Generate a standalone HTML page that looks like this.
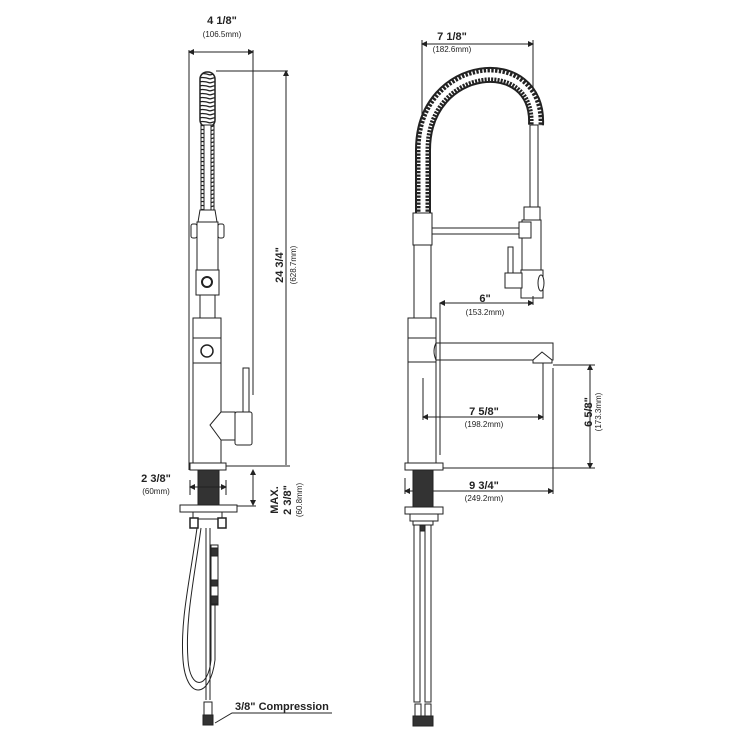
<!DOCTYPE html>
<html><head><meta charset="utf-8"><style>
html,body{margin:0;padding:0;background:#fff;}
svg{display:block;}
text{font-family:"Liberation Sans",sans-serif;fill:#222;}
.b{font-size:11px;font-weight:bold;}
.s{font-size:8px;}
</style></head><body>
<svg width="750" height="750" viewBox="0 0 750 750" xmlns="http://www.w3.org/2000/svg">
<defs>
<marker id="a" markerWidth="6" markerHeight="6" refX="5" refY="3" orient="auto-start-reverse"><path d="M0,0 L6,3 L0,6z" fill="#222"/></marker>
<pattern id="coil" width="15" height="4" patternUnits="userSpaceOnUse"><rect width="15" height="4" fill="#fff"/><path d="M0,3 Q7.5,0 15,3" stroke="#222" stroke-width="1.3" fill="none"/></pattern>
</defs>
<g stroke="#222" stroke-width="1" fill="none">
<!-- ===== LEFT VIEW ===== -->
<!-- top width dim -->
<line x1="189" y1="52" x2="253" y2="52" marker-start="url(#a)" marker-end="url(#a)"/>
<line x1="189" y1="50" x2="189" y2="470"/>
<line x1="253" y1="50" x2="253" y2="395"/>
<!-- height dim -->
<line x1="216" y1="71" x2="288" y2="71"/>
<line x1="286" y1="71" x2="286" y2="465" marker-start="url(#a)"/>
<line x1="225" y1="466" x2="290" y2="466"/>
<!-- coil hose -->
<rect x="200" y="72" width="15" height="55" rx="7" fill="url(#coil)" stroke="#222" stroke-width="1.5"/>
<rect x="201" y="125" width="13" height="86" fill="url(#coil)" stroke="#222"/>
<rect x="204" y="125" width="7" height="86" fill="#fff"/>
<!-- sprayer -->
<path d="M200,210 L215,210 L217,222 L198,222 Z" fill="#fff"/>
<rect x="197" y="222" width="21" height="48" fill="#fff"/>
<rect x="191" y="224" width="6" height="14" rx="2" fill="#fff"/>
<rect x="218" y="224" width="6" height="14" rx="2" fill="#fff"/>
<rect x="196" y="270" width="23" height="25" fill="#fff"/>
<circle cx="207" cy="282" r="5" stroke-width="2"/>
<rect x="200" y="295" width="15" height="23" fill="#fff"/>
<!-- body -->
<rect x="193" y="318" width="28" height="146" fill="#fff"/>
<line x1="193" y1="338" x2="221" y2="338"/>
<line x1="193" y1="363" x2="221" y2="363"/>
<circle cx="207" cy="351" r="6" stroke-width="1.5"/>
<!-- lever -->
<rect x="243" y="368" width="6" height="48" fill="#fff"/>
<path d="M221,412 L210,425 L221,440 L235,440 L235,412 Z" fill="#fff"/>
<rect x="235" y="412" width="17" height="33" rx="2" fill="#fff"/>
<!-- base -->
<rect x="190" y="463" width="36" height="7" fill="#fff"/>
<rect x="198" y="470" width="21" height="36" fill="#333"/>
<rect x="180" y="505" width="57" height="7" fill="#fff"/>
<rect x="193" y="512" width="29" height="7" fill="#fff"/>
<rect x="190" y="518" width="8" height="10" fill="#fff" stroke-width="1.5"/>
<rect x="218" y="518" width="8" height="10" fill="#fff" stroke-width="1.5"/>
<!-- 2 3/8 dims -->
<line x1="190" y1="487" x2="226" y2="487" marker-start="url(#a)" marker-end="url(#a)"/>
<line x1="190" y1="480" x2="190" y2="495"/>
<line x1="226" y1="480" x2="226" y2="495"/>
<line x1="253" y1="470" x2="253" y2="505" marker-start="url(#a)" marker-end="url(#a)"/>
<line x1="237" y1="506" x2="256" y2="506"/>
<!-- hoses -->
<line x1="206" y1="528" x2="206" y2="700"/>
<line x1="210" y1="528" x2="210" y2="700"/>
<path d="M197,528 C190,580 180,620 183,660 C186,700 210,700 215,660 L215,600"/>
<path d="M201,528 C194,580 185,620 188,660 C190,690 208,690 211,660 L211,600"/>
<rect x="211" y="545" width="7" height="60" fill="#fff"/>
<rect x="211" y="548" width="7" height="8" fill="#333"/>
<rect x="211" y="580" width="7" height="6" fill="#333"/>
<rect x="211" y="596" width="7" height="8" fill="#333"/>
<rect x="204" y="702" width="8" height="18" fill="#fff"/>
<rect x="203" y="715" width="10" height="10" fill="#333"/>
<path d="M215,723 L232,713 L332,713"/>
<!-- ===== RIGHT VIEW ===== -->
<line x1="422" y1="44" x2="533" y2="44" marker-start="url(#a)" marker-end="url(#a)"/>
<line x1="422" y1="40" x2="422" y2="212"/>
<line x1="533" y1="40" x2="533" y2="120"/>
<!-- arch coil -->
<path d="M423,213 L423,150 C423,60 540,50 536,125" stroke="#222" stroke-width="16"/>
<path d="M423,213 L423,150 C423,60 540,50 536,125" stroke="#fff" stroke-width="12" stroke-dasharray="1.3 2.2"/>
<path d="M423,213 L423,150 C423,60 540,50 536,125" stroke="#fff" stroke-width="5"/>
<rect x="530" y="125" width="8" height="83" fill="#fff"/>
<rect x="524" y="207" width="16" height="13" fill="#fff"/>
<rect x="522" y="220" width="19" height="78" fill="#fff"/>
<path d="M521,270 L543,270 L543,298 L521,298 Z" fill="#fff"/>
<ellipse cx="541" cy="283" rx="3" ry="8" fill="#fff"/>
<rect x="519" y="222" width="12" height="16" fill="#fff"/>
<rect x="432" y="228" width="87" height="6" fill="#fff"/>
<rect x="508" y="247" width="5" height="27" fill="#fff"/>
<rect x="505" y="273" width="17" height="15" fill="#fff"/>
<!-- column -->
<rect x="413" y="213" width="19" height="32" fill="#fff"/>
<rect x="414" y="245" width="17" height="73" fill="#fff"/>
<rect x="408" y="318" width="28" height="146" fill="#fff"/>
<line x1="408" y1="338" x2="436" y2="338"/>
<line x1="408" y1="362" x2="436" y2="362"/>
<path d="M436,343 Q432,351 436,360"/>
<rect x="436" y="343" width="117" height="17" fill="#fff"/>
<path d="M533,360 L542,352 L552,360 L552,363 L533,363 Z" fill="#fff"/>
<!-- dims right -->
<line x1="440" y1="303" x2="533" y2="303" marker-start="url(#a)" marker-end="url(#a)"/>
<line x1="533" y1="296" x2="533" y2="305"/>
<line x1="440" y1="303" x2="440" y2="455"/>
<line x1="423" y1="417" x2="543" y2="417" marker-start="url(#a)" marker-end="url(#a)"/>
<line x1="423" y1="378" x2="423" y2="420"/>
<line x1="543" y1="363" x2="543" y2="420"/>
<line x1="590" y1="365" x2="590" y2="468" marker-start="url(#a)" marker-end="url(#a)"/>
<line x1="553" y1="365" x2="595" y2="365"/>
<line x1="443" y1="468" x2="595" y2="468"/>
<line x1="405" y1="491" x2="553" y2="491" marker-start="url(#a)" marker-end="url(#a)"/>
<line x1="553" y1="368" x2="553" y2="494"/>
<line x1="405" y1="478" x2="405" y2="494"/>
<!-- base right -->
<rect x="405" y="463" width="38" height="7" fill="#fff"/>
<rect x="413" y="470" width="20" height="38" fill="#333"/>
<rect x="405" y="507" width="38" height="7" fill="#fff"/>
<rect x="410" y="514" width="28" height="7" fill="#fff"/>
<rect x="413" y="521" width="20" height="4" fill="#fff"/>
<rect x="414" y="525" width="6" height="177" fill="#fff"/>
<rect x="425" y="525" width="6" height="177" fill="#fff"/>
<rect x="420" y="525" width="5" height="6" fill="#333"/>
<rect x="415" y="704" width="6" height="14" fill="#fff"/>
<rect x="425" y="704" width="6" height="14" fill="#fff"/>
<rect x="413" y="716" width="20" height="10" fill="#333"/>
</g>
<!-- texts -->
<text x="222" y="24" class="b" text-anchor="middle">4 1/8"</text>
<text x="222" y="37" class="s" text-anchor="middle">(106.5mm)</text>
<text x="452" y="40" class="b" text-anchor="middle">7 1/8"</text>
<text x="452" y="52" class="s" text-anchor="middle">(182.6mm)</text>
<text class="b" text-anchor="middle" transform="translate(283,265) rotate(-90)">24 3/4"</text>
<text class="s" text-anchor="middle" transform="translate(296,265) rotate(-90)">(628.7mm)</text>
<text x="156" y="482" class="b" text-anchor="middle">2 3/8"</text>
<text x="156" y="494" class="s" text-anchor="middle">(60mm)</text>
<text class="b" text-anchor="middle" transform="translate(278,500) rotate(-90)">MAX.</text>
<text class="b" text-anchor="middle" transform="translate(291,500) rotate(-90)">2 3/8"</text>
<text class="s" text-anchor="middle" transform="translate(302,500) rotate(-90)">(60.8mm)</text>
<text x="235" y="710" class="b">3/8" Compression</text>
<text x="485" y="302" class="b" text-anchor="middle">6"</text>
<text x="485" y="315" class="s" text-anchor="middle">(153.2mm)</text>
<text x="484" y="415" class="b" text-anchor="middle">7 5/8"</text>
<text x="484" y="427" class="s" text-anchor="middle">(198.2mm)</text>
<text class="b" text-anchor="middle" transform="translate(592,412) rotate(-90)">6 5/8"</text>
<text class="s" text-anchor="middle" transform="translate(601,412) rotate(-90)">(173.3mm)</text>
<text x="484" y="489" class="b" text-anchor="middle">9 3/4"</text>
<text x="484" y="501" class="s" text-anchor="middle">(249.2mm)</text>
</svg>
</body></html>
